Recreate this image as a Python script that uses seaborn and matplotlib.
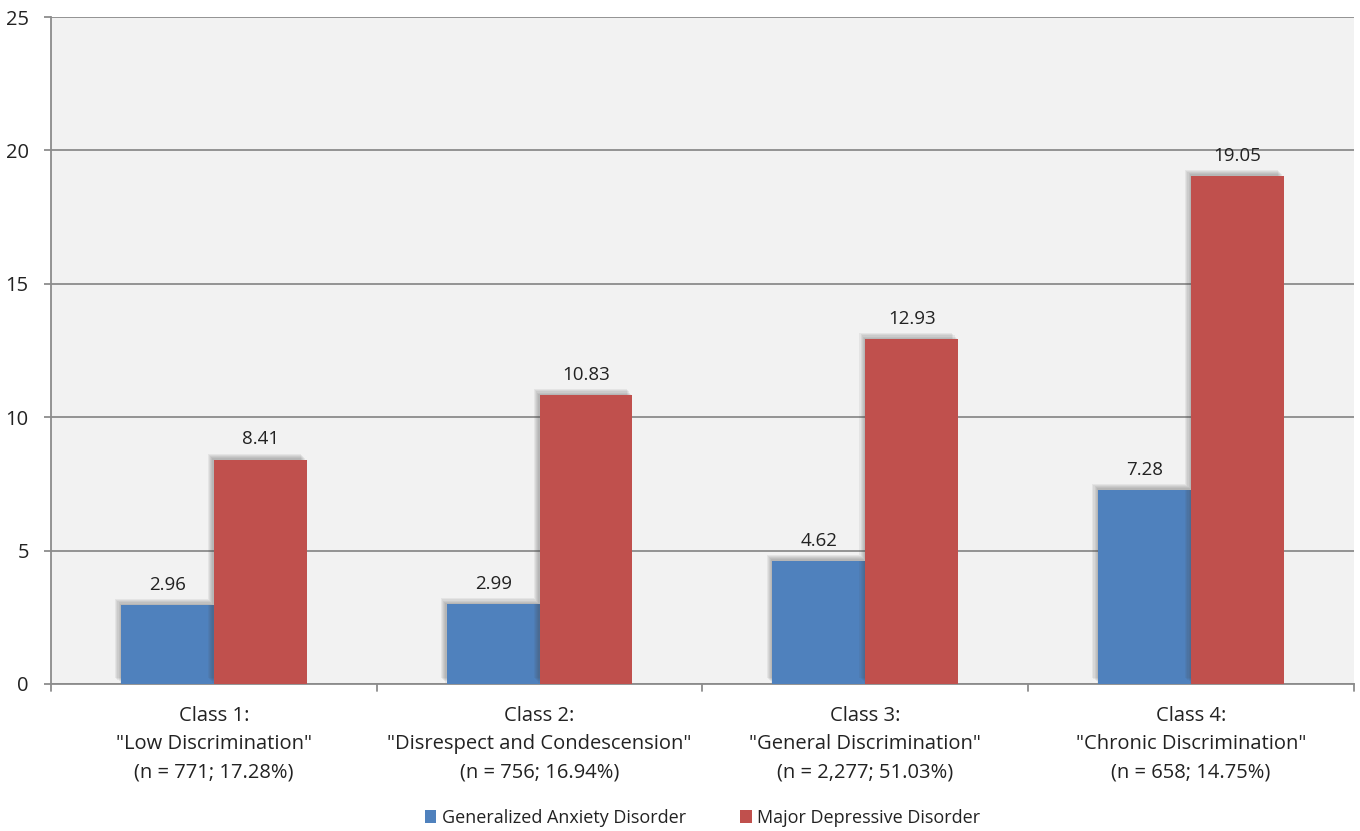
import matplotlib
matplotlib.use("Agg")
import matplotlib.pyplot as plt
import matplotlib.patheffects as pe
import seaborn as sns
import pandas as pd

classes = [
    'Class 1:\n"Low Discrimination"\n(n = 771; 17.28%)',
    'Class 2:\n"Disrespect and Condescension"\n(n = 756; 16.94%)',
    'Class 3:\n"General Discrimination"\n(n = 2,277; 51.03%)',
    'Class 4:\n"Chronic Discrimination"\n(n = 658; 14.75%)',
]
series = ["Generalized Anxiety Disorder", "Major Depressive Disorder"]
gad = [2.96, 2.99, 4.62, 7.28]
mdd = [8.41, 10.83, 12.93, 19.05]
colors = ["#4f81bd", "#c0504d"]

df = pd.DataFrame({
    "cls": classes * 2,
    "disorder": [series[0]] * 4 + [series[1]] * 4,
    "value": gad + mdd,
})

sns.set_theme(style="white")
plt.rcParams["font.family"] = ["Open Sans", "DejaVu Sans"]

fig = plt.figure(figsize=(13.6, 8.31), dpi=100)
ax = fig.add_axes([0.0375, 0.177, 0.958, 0.8025])
ax.set_facecolor("#f2f2f2")

sns.barplot(data=df, x="cls", y="value", hue="disorder", palette=colors,
            width=0.57, saturation=1, ax=ax, zorder=3, legend=True)

shadow = [pe.SimplePatchShadow(offset=(-o, o), shadow_rgbFace="#444444", alpha=0.08)
          for o in (1.0, 1.8, 2.6, 3.4, 4.2)]
for p in ax.patches:
    p.set_edgecolor("none")
    p.set_path_effects(shadow + [pe.Normal()])

for cont in ax.containers:
    ax.bar_label(cont, fmt="%.2f", padding=8, fontsize=13.5, color="#222222")

ax.set_ylim(0, 25)
ax.set_yticks([0, 5, 10, 15, 20, 25])
ax.yaxis.grid(True, color="#8c8c8c", linewidth=1.3, zorder=0)
ax.set_axisbelow(True)
ax.set_xlim(-0.5, 3.5)

for s in ["top", "right"]:
    ax.spines[s].set_visible(False)
for s in ["left", "bottom"]:
    ax.spines[s].set_color("#8c8c8c")
    ax.spines[s].set_linewidth(1.3)

ax.tick_params(axis="y", length=5, width=1.3, color="#8c8c8c", labelsize=14.5,
               pad=11, left=True, labelcolor="#222222")
ax.tick_params(axis="x", length=0, labelsize=14.5, pad=16, labelcolor="#222222")
for lbl in ax.get_xticklabels():
    lbl.set_linespacing(1.55)
ax.set_xlabel("")
ax.set_ylabel("")

# category separator ticks along the bottom axis
for xb in [-0.5, 0.5, 1.5, 2.5, 3.5]:
    ax.plot([xb, xb], [0, -0.25], color="#8c8c8c", lw=1.3, clip_on=False)

handles, labels = ax.get_legend_handles_labels()
leg = ax.legend(handles, labels, loc="upper center", bbox_to_anchor=(0.5, -0.163),
                ncol=2, frameon=False, fontsize=13, handlelength=0.65,
                handleheight=0.65, handletextpad=0.3, columnspacing=3.0)
for h in leg.legend_handles:
    h.set_path_effects([])
for t in leg.get_texts():
    t.set_color("#222222")

fig.savefig("out.png", dpi=100, facecolor="white")
